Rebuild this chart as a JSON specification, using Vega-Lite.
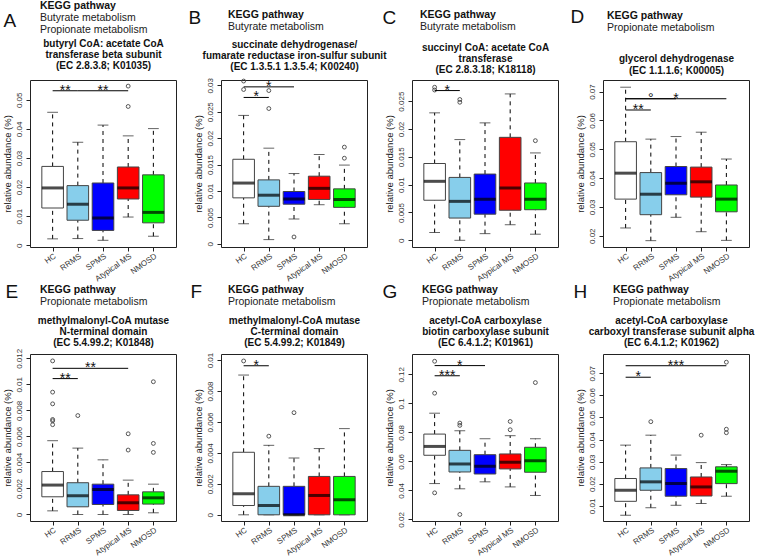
{
"$schema": "https://vega.github.io/schema/vega-lite/v6.json",
"background": "white",
"padding": {"left": 1, "top": 0, "right": 0, "bottom": 0},
"datasets": {
"box": [
{"p":"A","i":1,"g":"HC","lo":0.0022,"q1":0.0128,"med":0.0197,"q3":0.0271,"hi":0.0457},
{"p":"A","i":2,"g":"RRMS","lo":0.0023,"q1":0.0086,"med":0.0141,"q3":0.0205,"hi":0.0354},
{"p":"A","i":3,"g":"SPMS","lo":0.0017,"q1":0.0051,"med":0.0094,"q3":0.0214,"hi":0.0413},
{"p":"A","i":4,"g":"Atypical MS","lo":0.0097,"q1":0.0159,"med":0.0197,"q3":0.0269,"hi":0.0376},
{"p":"A","i":5,"g":"NMOSD","lo":0.0031,"q1":0.0077,"med":0.0113,"q3":0.0242,"hi":0.0401},
{"p":"B","i":1,"g":"HC","lo":0.0038,"q1":0.0087,"med":0.0115,"q3":0.0160,"hi":0.0243},
{"p":"B","i":2,"g":"RRMS","lo":0.0008,"q1":0.0071,"med":0.0092,"q3":0.0121,"hi":0.0181},
{"p":"B","i":3,"g":"SPMS","lo":0.0047,"q1":0.0075,"med":0.0085,"q3":0.0099,"hi":0.0133},
{"p":"B","i":4,"g":"Atypical MS","lo":0.0074,"q1":0.0084,"med":0.0105,"q3":0.0128,"hi":0.0169},
{"p":"B","i":5,"g":"NMOSD","lo":0.0038,"q1":0.0069,"med":0.0084,"q3":0.0104,"hi":0.0149},
{"p":"C","i":1,"g":"HC","lo":0.0014,"q1":0.0072,"med":0.0106,"q3":0.0138,"hi":0.0229},
{"p":"C","i":2,"g":"RRMS","lo":0.0,"q1":0.0040,"med":0.0070,"q3":0.0113,"hi":0.0181},
{"p":"C","i":3,"g":"SPMS","lo":0.0012,"q1":0.0047,"med":0.0074,"q3":0.0119,"hi":0.0211},
{"p":"C","i":4,"g":"Atypical MS","lo":0.0028,"q1":0.0054,"med":0.0094,"q3":0.0185,"hi":0.0263},
{"p":"C","i":5,"g":"NMOSD","lo":0.0011,"q1":0.0055,"med":0.0074,"q3":0.0103,"hi":0.0157},
{"p":"D","i":1,"g":"HC","lo":0.0227,"q1":0.0327,"med":0.0417,"q3":0.0526,"hi":0.0715},
{"p":"D","i":2,"g":"RRMS","lo":0.0183,"q1":0.0273,"med":0.0344,"q3":0.0419,"hi":0.0535},
{"p":"D","i":3,"g":"SPMS","lo":0.0264,"q1":0.0342,"med":0.0382,"q3":0.0440,"hi":0.0544},
{"p":"D","i":4,"g":"Atypical MS","lo":0.0214,"q1":0.0334,"med":0.0387,"q3":0.0438,"hi":0.0559},
{"p":"D","i":5,"g":"NMOSD","lo":0.0184,"q1":0.0283,"med":0.0327,"q3":0.0376,"hi":0.0466},
{"p":"E","i":1,"g":"HC","lo":0.00028,"q1":0.00136,"med":0.00226,"q3":0.0033,"hi":0.00567},
{"p":"E","i":2,"g":"RRMS","lo":0.0,"q1":0.00059,"med":0.00144,"q3":0.00244,"hi":0.0051},
{"p":"E","i":3,"g":"SPMS","lo":0.0,"q1":0.00077,"med":0.00192,"q3":0.00233,"hi":0.0042},
{"p":"E","i":4,"g":"Atypical MS","lo":0.0,"q1":0.00031,"med":0.0009,"q3":0.00151,"hi":0.00264},
{"p":"E","i":5,"g":"NMOSD","lo":0.00013,"q1":0.0008,"med":0.00128,"q3":0.00174,"hi":0.00233},
{"p":"F","i":1,"g":"HC","lo":0.0,"q1":0.0006,"med":0.00136,"q3":0.00404,"hi":0.00903},
{"p":"F","i":2,"g":"RRMS","lo":0.0,"q1":0.0,"med":0.0006,"q3":0.00184,"hi":0.00449},
{"p":"F","i":3,"g":"SPMS","lo":0.0,"q1":0.0,"med":0.0,"q3":0.00184,"hi":0.00367},
{"p":"F","i":4,"g":"Atypical MS","lo":0.0,"q1":0.0,"med":0.00125,"q3":0.00248,"hi":0.00428},
{"p":"F","i":5,"g":"NMOSD","lo":0.0,"q1":0.0,"med":0.00097,"q3":0.00248,"hi":0.00557},
{"p":"G","i":1,"g":"HC","lo":0.0447,"q1":0.0642,"med":0.0703,"q3":0.0788,"hi":0.0932},
{"p":"G","i":2,"g":"RRMS","lo":0.0411,"q1":0.0527,"med":0.0582,"q3":0.0676,"hi":0.0811},
{"p":"G","i":3,"g":"SPMS","lo":0.0459,"q1":0.0513,"med":0.0566,"q3":0.0646,"hi":0.0756},
{"p":"G","i":4,"g":"Atypical MS","lo":0.0424,"q1":0.0548,"med":0.0594,"q3":0.0651,"hi":0.0777},
{"p":"G","i":5,"g":"NMOSD","lo":0.0365,"q1":0.0525,"med":0.0605,"q3":0.0697,"hi":0.0756},
{"p":"H","i":1,"g":"HC","lo":0.0058,"q1":0.0121,"med":0.0171,"q3":0.0224,"hi":0.0375},
{"p":"H","i":2,"g":"RRMS","lo":0.0092,"q1":0.0171,"med":0.0209,"q3":0.0272,"hi":0.0420},
{"p":"H","i":3,"g":"SPMS","lo":0.0103,"q1":0.0144,"med":0.0201,"q3":0.0269,"hi":0.0330},
{"p":"H","i":4,"g":"Atypical MS","lo":0.0111,"q1":0.0145,"med":0.0186,"q3":0.0231,"hi":0.0296},
{"p":"H","i":5,"g":"NMOSD","lo":0.0144,"q1":0.0201,"med":0.0257,"q3":0.0277,"hi":0.0287}
],
"out": [
{"p":"A","i":4,"v":0.0477},{"p":"A","i":4,"v":0.0547},
{"p":"B","i":1,"v":0.0292},{"p":"B","i":1,"v":0.0308},{"p":"B","i":2,"v":0.0256},{"p":"B","i":2,"v":0.0290},{"p":"B","i":3,"v":0.0013},{"p":"B","i":5,"v":0.0162},{"p":"B","i":5,"v":0.0183},
{"p":"C","i":1,"v":0.0270},{"p":"C","i":1,"v":0.0275},{"p":"C","i":2,"v":0.0248},{"p":"C","i":2,"v":0.0253},{"p":"C","i":5,"v":0.0179},
{"p":"E","i":1,"v":0.0118},{"p":"E","i":1,"v":0.0094},{"p":"E","i":1,"v":0.0085},{"p":"E","i":1,"v":0.0073},{"p":"E","i":1,"v":0.0072},{"p":"E","i":1,"v":0.0069},{"p":"E","i":2,"v":0.0076},{"p":"E","i":4,"v":0.0062},{"p":"E","i":4,"v":0.00495},{"p":"E","i":5,"v":0.0102},{"p":"E","i":5,"v":0.00546},{"p":"E","i":5,"v":0.00477},
{"p":"F","i":1,"v":0.00994},{"p":"F","i":2,"v":0.00508},{"p":"F","i":3,"v":0.0066},
{"p":"G","i":1,"v":0.129},{"p":"G","i":1,"v":0.107},{"p":"G","i":1,"v":0.0383},{"p":"G","i":2,"v":0.0864},{"p":"G","i":2,"v":0.0848},{"p":"G","i":2,"v":0.0234},{"p":"G","i":4,"v":0.0875},{"p":"G","i":4,"v":0.0818},{"p":"G","i":5,"v":0.1143},
{"p":"H","i":2,"v":0.0481},{"p":"H","i":4,"v":0.0420},{"p":"H","i":5,"v":0.0750},{"p":"H","i":5,"v":0.0447},{"p":"H","i":5,"v":0.0431}
],
"sig": [
{"p":"A","from":1,"to":2,"mid":1.5,"y":0.0531,"label":"**"},
{"p":"A","from":2,"to":4,"mid":3,"y":0.0531,"label":"**"},
{"p":"B","from":1,"to":2,"mid":1.5,"y":0.0277,"label":"*"},
{"p":"B","from":1,"to":3,"mid":2,"y":0.0297,"label":"*"},
{"p":"C","from":1,"to":2,"mid":1.5,"y":0.0269,"label":"*"},
{"p":"D","from":1,"to":2,"mid":1.5,"y":0.0636,"label":"**"},
{"p":"D","from":1,"to":5,"mid":3,"y":0.0675,"label":"*"},
{"p":"D","from":1,"to":3,"mid":2,"y":0.0675,"label":"°"},
{"p":"E","from":1,"to":2,"mid":1.5,"y":0.01044,"label":"**"},
{"p":"E","from":1,"to":4,"mid":2.5,"y":0.01123,"label":"**"},
{"p":"F","from":1,"to":2,"mid":1.5,"y":0.00963,"label":"*"},
{"p":"G","from":1,"to":2,"mid":1.5,"y":0.119,"label":"***"},
{"p":"G","from":1,"to":3,"mid":2,"y":0.126,"label":"*"},
{"p":"H","from":1,"to":2,"mid":1.5,"y":0.0682,"label":"*"},
{"p":"H","from":1,"to":5,"mid":3,"y":0.0734,"label":"***"}
]
},
"columns": 4,
"spacing": {"row": 107, "column": 45},
"bounds": "flush",
"concat": [
{"width": 146, "height": 167,
 "title": {"text": "KEGG pathway", "subtitle": ["Butyrate metabolism", "Propionate metabolism"], "anchor": "start", "frame": "group", "dx": 10, "offset": -24},
 "resolve": {"axis": {"x": "independent", "y": "independent"}},
 "layer": [
  {"data": {"name": "box"}, "transform": [{"filter": "datum.p == 'A'"}], "mark": {"type": "rule", "style": "whisk"}, "encoding": {"x": {"field": "i", "type": "quantitative", "scale": {"domain": [0.3, 5.7], "nice": false, "zero": false}, "axis": {"values": [1,2,3,4,5], "labelExpr": "['','HC','RRMS','SPMS','Atypical MS','NMOSD'][datum.value]", "title": null}}, "y": {"field": "lo", "type": "quantitative", "scale": {"domain": [-0.0006, 0.0568], "nice": false, "zero": false}, "axis": {"values": [0,0.01,0.02,0.03,0.04,0.05], "title": "relative abundance (%)"}}, "y2": {"field": "q1"}}},
  {"data": {"name": "box"}, "transform": [{"filter": "datum.p == 'A'"}], "mark": {"type": "rule", "style": "whisk"}, "encoding": {"x": {"field": "i", "type": "quantitative", "axis": null}, "y": {"field": "q3", "type": "quantitative", "axis": null}, "y2": {"field": "hi"}}},
  {"data": {"name": "box"}, "transform": [{"filter": "datum.p == 'A'"}], "mark": {"type": "tick", "style": "cap"}, "encoding": {"x": {"field": "i", "type": "quantitative", "axis": null}, "y": {"field": "lo", "type": "quantitative", "axis": null}}},
  {"data": {"name": "box"}, "transform": [{"filter": "datum.p == 'A'"}], "mark": {"type": "tick", "style": "cap"}, "encoding": {"x": {"field": "i", "type": "quantitative", "axis": null}, "y": {"field": "hi", "type": "quantitative", "axis": null}}},
  {"data": {"name": "box"}, "transform": [{"filter": "datum.p == 'A'"}], "mark": {"type": "bar", "width": 21.6, "stroke": "#444", "strokeWidth": 1}, "encoding": {"x": {"field": "i", "type": "quantitative", "axis": null}, "y": {"field": "q1", "type": "quantitative", "axis": null}, "y2": {"field": "q3"}, "fill": {"field": "g", "type": "nominal", "scale": {"domain": ["HC","RRMS","SPMS","Atypical MS","NMOSD"], "range": ["#ffffff","#87ceeb","#0000ff","#ff0000","#00ff00"]}, "legend": null}}},
  {"data": {"name": "box"}, "transform": [{"filter": "datum.p == 'A'"}], "mark": {"type": "tick", "style": "medtick"}, "encoding": {"x": {"field": "i", "type": "quantitative", "axis": null}, "y": {"field": "med", "type": "quantitative", "axis": null}}},
  {"data": {"name": "out"}, "transform": [{"filter": "datum.p == 'A'"}], "mark": {"type": "point", "style": "outl"}, "encoding": {"x": {"field": "i", "type": "quantitative", "axis": null}, "y": {"field": "v", "type": "quantitative", "axis": {"orient": "left", "title": "A", "labels": false, "ticks": false, "domain": false, "titleAngle": 0, "titleX": -27, "titleY": -54, "titleFontSize": 19, "titleFontWeight": "normal", "titleAlign": "left", "titleBaseline": "alphabetic", "titleColor": "#111"}}}},
  {"data": {"name": "sig"}, "transform": [{"filter": "datum.p == 'A'"}], "mark": {"type": "rule", "style": "sigline"}, "encoding": {"x": {"field": "from", "type": "quantitative", "axis": {"orient": "top", "title": ["butyryl CoA: acetate CoA", "transferase beta subunit", "(EC 2.8.3.8; K01035)"], "labels": false, "ticks": false, "domain": false, "titleFontWeight": "bold", "titleFontSize": 10, "titleLineHeight": 11, "titlePadding": 10, "titleColor": "#111"}}, "x2": {"field": "to"}, "y": {"field": "y", "type": "quantitative", "axis": null}}},
  {"data": {"name": "sig"}, "transform": [{"filter": "datum.p == 'A'"}], "mark": {"type": "text", "style": "star"}, "encoding": {"x": {"field": "mid", "type": "quantitative", "axis": null}, "y": {"field": "y", "type": "quantitative", "axis": null}, "text": {"field": "label"}}}
 ]},
{"width": 146, "height": 167,
 "title": {"text": "KEGG pathway", "subtitle": ["Butyrate metabolism"], "anchor": "start", "frame": "group", "dx": 7, "offset": -24},
 "resolve": {"axis": {"x": "independent", "y": "independent"}},
 "layer": [
  {"data": {"name": "box"}, "transform": [{"filter": "datum.p == 'B'"}], "mark": {"type": "rule", "style": "whisk"}, "encoding": {"x": {"field": "i", "type": "quantitative", "scale": {"domain": [0.3, 5.7], "nice": false, "zero": false}, "axis": {"values": [1,2,3,4,5], "labelExpr": "['','HC','RRMS','SPMS','Atypical MS','NMOSD'][datum.value]", "title": null}}, "y": {"field": "lo", "type": "quantitative", "scale": {"domain": [-0.0006, 0.031], "nice": false, "zero": false}, "axis": {"values": [0,0.005,0.01,0.015,0.02,0.025,0.03], "title": "relative abundance (%)"}}, "y2": {"field": "q1"}}},
  {"data": {"name": "box"}, "transform": [{"filter": "datum.p == 'B'"}], "mark": {"type": "rule", "style": "whisk"}, "encoding": {"x": {"field": "i", "type": "quantitative", "axis": null}, "y": {"field": "q3", "type": "quantitative", "axis": null}, "y2": {"field": "hi"}}},
  {"data": {"name": "box"}, "transform": [{"filter": "datum.p == 'B'"}], "mark": {"type": "tick", "style": "cap"}, "encoding": {"x": {"field": "i", "type": "quantitative", "axis": null}, "y": {"field": "lo", "type": "quantitative", "axis": null}}},
  {"data": {"name": "box"}, "transform": [{"filter": "datum.p == 'B'"}], "mark": {"type": "tick", "style": "cap"}, "encoding": {"x": {"field": "i", "type": "quantitative", "axis": null}, "y": {"field": "hi", "type": "quantitative", "axis": null}}},
  {"data": {"name": "box"}, "transform": [{"filter": "datum.p == 'B'"}], "mark": {"type": "bar", "width": 21.6, "stroke": "#444", "strokeWidth": 1}, "encoding": {"x": {"field": "i", "type": "quantitative", "axis": null}, "y": {"field": "q1", "type": "quantitative", "axis": null}, "y2": {"field": "q3"}, "fill": {"field": "g", "type": "nominal", "scale": {"domain": ["HC","RRMS","SPMS","Atypical MS","NMOSD"], "range": ["#ffffff","#87ceeb","#0000ff","#ff0000","#00ff00"]}, "legend": null}}},
  {"data": {"name": "box"}, "transform": [{"filter": "datum.p == 'B'"}], "mark": {"type": "tick", "style": "medtick"}, "encoding": {"x": {"field": "i", "type": "quantitative", "axis": null}, "y": {"field": "med", "type": "quantitative", "axis": null}}},
  {"data": {"name": "out"}, "transform": [{"filter": "datum.p == 'B'"}], "mark": {"type": "point", "style": "outl"}, "encoding": {"x": {"field": "i", "type": "quantitative", "axis": null}, "y": {"field": "v", "type": "quantitative", "axis": {"orient": "left", "title": "B", "labels": false, "ticks": false, "domain": false, "titleAngle": 0, "titleX": -33, "titleY": -57, "titleFontSize": 19, "titleFontWeight": "normal", "titleAlign": "left", "titleBaseline": "alphabetic", "titleColor": "#111"}}}},
  {"data": {"name": "sig"}, "transform": [{"filter": "datum.p == 'B'"}], "mark": {"type": "rule", "style": "sigline"}, "encoding": {"x": {"field": "from", "type": "quantitative", "axis": {"orient": "top", "title": ["succinate dehydrogenase/", "fumarate reductase iron-sulfur subunit", "(EC 1.3.5.1 1.3.5.4; K00240)"], "labels": false, "ticks": false, "domain": false, "titleFontWeight": "bold", "titleFontSize": 10, "titleLineHeight": 11, "titlePadding": 9, "titleColor": "#111"}}, "x2": {"field": "to"}, "y": {"field": "y", "type": "quantitative", "axis": null}}},
  {"data": {"name": "sig"}, "transform": [{"filter": "datum.p == 'B'"}], "mark": {"type": "text", "style": "star"}, "encoding": {"x": {"field": "mid", "type": "quantitative", "axis": null}, "y": {"field": "y", "type": "quantitative", "axis": null}, "text": {"field": "label"}}}
 ]},
{"width": 146, "height": 167,
 "title": {"text": "KEGG pathway", "subtitle": ["Butyrate metabolism"], "anchor": "start", "frame": "group", "dx": 8, "offset": -24},
 "resolve": {"axis": {"x": "independent", "y": "independent"}},
 "layer": [
  {"data": {"name": "box"}, "transform": [{"filter": "datum.p == 'C'"}], "mark": {"type": "rule", "style": "whisk"}, "encoding": {"x": {"field": "i", "type": "quantitative", "scale": {"domain": [0.3, 5.7], "nice": false, "zero": false}, "axis": {"values": [1,2,3,4,5], "labelExpr": "['','HC','RRMS','SPMS','Atypical MS','NMOSD'][datum.value]", "title": null}}, "y": {"field": "lo", "type": "quantitative", "scale": {"domain": [-0.0012, 0.0288], "nice": false, "zero": false}, "axis": {"values": [0,0.005,0.01,0.015,0.02,0.025], "title": "relative abundance (%)"}}, "y2": {"field": "q1"}}},
  {"data": {"name": "box"}, "transform": [{"filter": "datum.p == 'C'"}], "mark": {"type": "rule", "style": "whisk"}, "encoding": {"x": {"field": "i", "type": "quantitative", "axis": null}, "y": {"field": "q3", "type": "quantitative", "axis": null}, "y2": {"field": "hi"}}},
  {"data": {"name": "box"}, "transform": [{"filter": "datum.p == 'C'"}], "mark": {"type": "tick", "style": "cap"}, "encoding": {"x": {"field": "i", "type": "quantitative", "axis": null}, "y": {"field": "lo", "type": "quantitative", "axis": null}}},
  {"data": {"name": "box"}, "transform": [{"filter": "datum.p == 'C'"}], "mark": {"type": "tick", "style": "cap"}, "encoding": {"x": {"field": "i", "type": "quantitative", "axis": null}, "y": {"field": "hi", "type": "quantitative", "axis": null}}},
  {"data": {"name": "box"}, "transform": [{"filter": "datum.p == 'C'"}], "mark": {"type": "bar", "width": 21.6, "stroke": "#444", "strokeWidth": 1}, "encoding": {"x": {"field": "i", "type": "quantitative", "axis": null}, "y": {"field": "q1", "type": "quantitative", "axis": null}, "y2": {"field": "q3"}, "fill": {"field": "g", "type": "nominal", "scale": {"domain": ["HC","RRMS","SPMS","Atypical MS","NMOSD"], "range": ["#ffffff","#87ceeb","#0000ff","#ff0000","#00ff00"]}, "legend": null}}},
  {"data": {"name": "box"}, "transform": [{"filter": "datum.p == 'C'"}], "mark": {"type": "tick", "style": "medtick"}, "encoding": {"x": {"field": "i", "type": "quantitative", "axis": null}, "y": {"field": "med", "type": "quantitative", "axis": null}}},
  {"data": {"name": "out"}, "transform": [{"filter": "datum.p == 'C'"}], "mark": {"type": "point", "style": "outl"}, "encoding": {"x": {"field": "i", "type": "quantitative", "axis": null}, "y": {"field": "v", "type": "quantitative", "axis": {"orient": "left", "title": "C", "labels": false, "ticks": false, "domain": false, "titleAngle": 0, "titleX": -30, "titleY": -57, "titleFontSize": 19, "titleFontWeight": "normal", "titleAlign": "left", "titleBaseline": "alphabetic", "titleColor": "#111"}}}},
  {"data": {"name": "sig"}, "transform": [{"filter": "datum.p == 'C'"}], "mark": {"type": "rule", "style": "sigline"}, "encoding": {"x": {"field": "from", "type": "quantitative", "axis": {"orient": "top", "title": ["succinyl CoA: acetate CoA", "transferase", "(EC 2.8.3.18; K18118)"], "labels": false, "ticks": false, "domain": false, "titleFontWeight": "bold", "titleFontSize": 10, "titleLineHeight": 11, "titlePadding": 6, "titleColor": "#111"}}, "x2": {"field": "to"}, "y": {"field": "y", "type": "quantitative", "axis": null}}},
  {"data": {"name": "sig"}, "transform": [{"filter": "datum.p == 'C'"}], "mark": {"type": "text", "style": "star"}, "encoding": {"x": {"field": "mid", "type": "quantitative", "axis": null}, "y": {"field": "y", "type": "quantitative", "axis": null}, "text": {"field": "label"}}}
 ]},
{"width": 146, "height": 167,
 "title": {"text": "KEGG pathway", "subtitle": ["Propionate metabolism"], "anchor": "start", "frame": "group", "dx": 4, "offset": -26},
 "resolve": {"axis": {"x": "independent", "y": "independent"}},
 "layer": [
  {"data": {"name": "box"}, "transform": [{"filter": "datum.p == 'D'"}], "mark": {"type": "rule", "style": "whisk"}, "encoding": {"x": {"field": "i", "type": "quantitative", "scale": {"domain": [0.3, 5.7], "nice": false, "zero": false}, "axis": {"values": [1,2,3,4,5], "labelExpr": "['','HC','RRMS','SPMS','Atypical MS','NMOSD'][datum.value]", "title": null}}, "y": {"field": "lo", "type": "quantitative", "scale": {"domain": [0.0161, 0.074], "nice": false, "zero": false}, "axis": {"values": [0.02,0.03,0.04,0.05,0.06,0.07], "title": "relative abundance (%)"}}, "y2": {"field": "q1"}}},
  {"data": {"name": "box"}, "transform": [{"filter": "datum.p == 'D'"}], "mark": {"type": "rule", "style": "whisk"}, "encoding": {"x": {"field": "i", "type": "quantitative", "axis": null}, "y": {"field": "q3", "type": "quantitative", "axis": null}, "y2": {"field": "hi"}}},
  {"data": {"name": "box"}, "transform": [{"filter": "datum.p == 'D'"}], "mark": {"type": "tick", "style": "cap"}, "encoding": {"x": {"field": "i", "type": "quantitative", "axis": null}, "y": {"field": "lo", "type": "quantitative", "axis": null}}},
  {"data": {"name": "box"}, "transform": [{"filter": "datum.p == 'D'"}], "mark": {"type": "tick", "style": "cap"}, "encoding": {"x": {"field": "i", "type": "quantitative", "axis": null}, "y": {"field": "hi", "type": "quantitative", "axis": null}}},
  {"data": {"name": "box"}, "transform": [{"filter": "datum.p == 'D'"}], "mark": {"type": "bar", "width": 21.6, "stroke": "#444", "strokeWidth": 1}, "encoding": {"x": {"field": "i", "type": "quantitative", "axis": null}, "y": {"field": "q1", "type": "quantitative", "axis": null}, "y2": {"field": "q3"}, "fill": {"field": "g", "type": "nominal", "scale": {"domain": ["HC","RRMS","SPMS","Atypical MS","NMOSD"], "range": ["#ffffff","#87ceeb","#0000ff","#ff0000","#00ff00"]}, "legend": null}}},
  {"data": {"name": "box"}, "transform": [{"filter": "datum.p == 'D'"}], "mark": {"type": "tick", "style": "medtick"}, "encoding": {"x": {"field": "i", "type": "quantitative", "axis": null}, "y": {"field": "med", "type": "quantitative", "axis": null}}},
  {"data": {"name": "out"}, "transform": [{"filter": "datum.p == 'D'"}], "mark": {"type": "point", "style": "outl"}, "encoding": {"x": {"field": "i", "type": "quantitative", "axis": null}, "y": {"field": "v", "type": "quantitative", "axis": {"orient": "left", "title": "D", "labels": false, "ticks": false, "domain": false, "titleAngle": 0, "titleX": -33, "titleY": -58, "titleFontSize": 19, "titleFontWeight": "normal", "titleAlign": "left", "titleBaseline": "alphabetic", "titleColor": "#111"}}}},
  {"data": {"name": "sig"}, "transform": [{"filter": "datum.p == 'D'"}], "mark": {"type": "rule", "style": "sigline"}, "encoding": {"x": {"field": "from", "type": "quantitative", "axis": {"orient": "top", "title": ["glycerol dehydrogenase", "(EC 1.1.1.6; K00005)"], "labels": false, "ticks": false, "domain": false, "titleFontWeight": "bold", "titleFontSize": 10, "titleLineHeight": 12, "titlePadding": 5, "titleColor": "#111"}}, "x2": {"field": "to"}, "y": {"field": "y", "type": "quantitative", "axis": null}}},
  {"data": {"name": "sig"}, "transform": [{"filter": "datum.p == 'D'"}], "mark": {"type": "text", "style": "star"}, "encoding": {"x": {"field": "mid", "type": "quantitative", "axis": null}, "y": {"field": "y", "type": "quantitative", "axis": null}, "text": {"field": "label"}}}
 ]},
{"width": 146, "height": 167,
 "title": {"text": "KEGG pathway", "subtitle": ["Propionate metabolism"], "anchor": "start", "frame": "group", "dx": 10, "offset": -25},
 "resolve": {"axis": {"x": "independent", "y": "independent"}},
 "layer": [
  {"data": {"name": "box"}, "transform": [{"filter": "datum.p == 'E'"}], "mark": {"type": "rule", "style": "whisk"}, "encoding": {"x": {"field": "i", "type": "quantitative", "scale": {"domain": [0.3, 5.7], "nice": false, "zero": false}, "axis": {"values": [1,2,3,4,5], "labelExpr": "['','HC','RRMS','SPMS','Atypical MS','NMOSD'][datum.value]", "title": null}}, "y": {"field": "lo", "type": "quantitative", "scale": {"domain": [-0.0005, 0.01233], "nice": false, "zero": false}, "axis": {"values": [0,0.002,0.004,0.006,0.008,0.01,0.012], "title": "relative abundance (%)"}}, "y2": {"field": "q1"}}},
  {"data": {"name": "box"}, "transform": [{"filter": "datum.p == 'E'"}], "mark": {"type": "rule", "style": "whisk"}, "encoding": {"x": {"field": "i", "type": "quantitative", "axis": null}, "y": {"field": "q3", "type": "quantitative", "axis": null}, "y2": {"field": "hi"}}},
  {"data": {"name": "box"}, "transform": [{"filter": "datum.p == 'E'"}], "mark": {"type": "tick", "style": "cap"}, "encoding": {"x": {"field": "i", "type": "quantitative", "axis": null}, "y": {"field": "lo", "type": "quantitative", "axis": null}}},
  {"data": {"name": "box"}, "transform": [{"filter": "datum.p == 'E'"}], "mark": {"type": "tick", "style": "cap"}, "encoding": {"x": {"field": "i", "type": "quantitative", "axis": null}, "y": {"field": "hi", "type": "quantitative", "axis": null}}},
  {"data": {"name": "box"}, "transform": [{"filter": "datum.p == 'E'"}], "mark": {"type": "bar", "width": 21.6, "stroke": "#444", "strokeWidth": 1}, "encoding": {"x": {"field": "i", "type": "quantitative", "axis": null}, "y": {"field": "q1", "type": "quantitative", "axis": null}, "y2": {"field": "q3"}, "fill": {"field": "g", "type": "nominal", "scale": {"domain": ["HC","RRMS","SPMS","Atypical MS","NMOSD"], "range": ["#ffffff","#87ceeb","#0000ff","#ff0000","#00ff00"]}, "legend": null}}},
  {"data": {"name": "box"}, "transform": [{"filter": "datum.p == 'E'"}], "mark": {"type": "tick", "style": "medtick"}, "encoding": {"x": {"field": "i", "type": "quantitative", "axis": null}, "y": {"field": "med", "type": "quantitative", "axis": null}}},
  {"data": {"name": "out"}, "transform": [{"filter": "datum.p == 'E'"}], "mark": {"type": "point", "style": "outl"}, "encoding": {"x": {"field": "i", "type": "quantitative", "axis": null}, "y": {"field": "v", "type": "quantitative", "axis": {"orient": "left", "title": "E", "labels": false, "ticks": false, "domain": false, "titleAngle": 0, "titleX": -25, "titleY": -57, "titleFontSize": 19, "titleFontWeight": "normal", "titleAlign": "left", "titleBaseline": "alphabetic", "titleColor": "#111"}}}},
  {"data": {"name": "sig"}, "transform": [{"filter": "datum.p == 'E'"}], "mark": {"type": "rule", "style": "sigline"}, "encoding": {"x": {"field": "from", "type": "quantitative", "axis": {"orient": "top", "title": ["methylmalonyl-CoA mutase", "N-terminal domain", "(EC 5.4.99.2; K01848)"], "labels": false, "ticks": false, "domain": false, "titleFontWeight": "bold", "titleFontSize": 10, "titleLineHeight": 11, "titlePadding": 7, "titleColor": "#111"}}, "x2": {"field": "to"}, "y": {"field": "y", "type": "quantitative", "axis": null}}},
  {"data": {"name": "sig"}, "transform": [{"filter": "datum.p == 'E'"}], "mark": {"type": "text", "style": "star"}, "encoding": {"x": {"field": "mid", "type": "quantitative", "axis": null}, "y": {"field": "y", "type": "quantitative", "axis": null}, "text": {"field": "label"}}}
 ]},
{"width": 146, "height": 167,
 "title": {"text": "KEGG pathway", "subtitle": ["Propionate metabolism"], "anchor": "start", "frame": "group", "dx": 7, "offset": -25},
 "resolve": {"axis": {"x": "independent", "y": "independent"}},
 "layer": [
  {"data": {"name": "box"}, "transform": [{"filter": "datum.p == 'F'"}], "mark": {"type": "rule", "style": "whisk"}, "encoding": {"x": {"field": "i", "type": "quantitative", "scale": {"domain": [0.3, 5.7], "nice": false, "zero": false}, "axis": {"values": [1,2,3,4,5], "labelExpr": "['','HC','RRMS','SPMS','Atypical MS','NMOSD'][datum.value]", "title": null}}, "y": {"field": "lo", "type": "quantitative", "scale": {"domain": [-0.0004, 0.01039], "nice": false, "zero": false}, "axis": {"values": [0,0.002,0.004,0.006,0.008,0.01], "title": "relative abundance (%)"}}, "y2": {"field": "q1"}}},
  {"data": {"name": "box"}, "transform": [{"filter": "datum.p == 'F'"}], "mark": {"type": "rule", "style": "whisk"}, "encoding": {"x": {"field": "i", "type": "quantitative", "axis": null}, "y": {"field": "q3", "type": "quantitative", "axis": null}, "y2": {"field": "hi"}}},
  {"data": {"name": "box"}, "transform": [{"filter": "datum.p == 'F'"}], "mark": {"type": "tick", "style": "cap"}, "encoding": {"x": {"field": "i", "type": "quantitative", "axis": null}, "y": {"field": "lo", "type": "quantitative", "axis": null}}},
  {"data": {"name": "box"}, "transform": [{"filter": "datum.p == 'F'"}], "mark": {"type": "tick", "style": "cap"}, "encoding": {"x": {"field": "i", "type": "quantitative", "axis": null}, "y": {"field": "hi", "type": "quantitative", "axis": null}}},
  {"data": {"name": "box"}, "transform": [{"filter": "datum.p == 'F'"}], "mark": {"type": "bar", "width": 21.6, "stroke": "#444", "strokeWidth": 1}, "encoding": {"x": {"field": "i", "type": "quantitative", "axis": null}, "y": {"field": "q1", "type": "quantitative", "axis": null}, "y2": {"field": "q3"}, "fill": {"field": "g", "type": "nominal", "scale": {"domain": ["HC","RRMS","SPMS","Atypical MS","NMOSD"], "range": ["#ffffff","#87ceeb","#0000ff","#ff0000","#00ff00"]}, "legend": null}}},
  {"data": {"name": "box"}, "transform": [{"filter": "datum.p == 'F'"}], "mark": {"type": "tick", "style": "medtick"}, "encoding": {"x": {"field": "i", "type": "quantitative", "axis": null}, "y": {"field": "med", "type": "quantitative", "axis": null}}},
  {"data": {"name": "out"}, "transform": [{"filter": "datum.p == 'F'"}], "mark": {"type": "point", "style": "outl"}, "encoding": {"x": {"field": "i", "type": "quantitative", "axis": null}, "y": {"field": "v", "type": "quantitative", "axis": {"orient": "left", "title": "F", "labels": false, "ticks": false, "domain": false, "titleAngle": 0, "titleX": -31, "titleY": -57, "titleFontSize": 19, "titleFontWeight": "normal", "titleAlign": "left", "titleBaseline": "alphabetic", "titleColor": "#111"}}}},
  {"data": {"name": "sig"}, "transform": [{"filter": "datum.p == 'F'"}], "mark": {"type": "rule", "style": "sigline"}, "encoding": {"x": {"field": "from", "type": "quantitative", "axis": {"orient": "top", "title": ["methylmalonyl-CoA mutase", "C-terminal domain", "(EC 5.4.99.2; K01849)"], "labels": false, "ticks": false, "domain": false, "titleFontWeight": "bold", "titleFontSize": 10, "titleLineHeight": 11, "titlePadding": 7, "titleColor": "#111"}}, "x2": {"field": "to"}, "y": {"field": "y", "type": "quantitative", "axis": null}}},
  {"data": {"name": "sig"}, "transform": [{"filter": "datum.p == 'F'"}], "mark": {"type": "text", "style": "star"}, "encoding": {"x": {"field": "mid", "type": "quantitative", "axis": null}, "y": {"field": "y", "type": "quantitative", "axis": null}, "text": {"field": "label"}}}
 ]},
{"width": 146, "height": 167,
 "title": {"text": "KEGG pathway", "subtitle": ["Propionate metabolism"], "anchor": "start", "frame": "group", "dx": 10, "offset": -25},
 "resolve": {"axis": {"x": "independent", "y": "independent"}},
 "layer": [
  {"data": {"name": "box"}, "transform": [{"filter": "datum.p == 'G'"}], "mark": {"type": "rule", "style": "whisk"}, "encoding": {"x": {"field": "i", "type": "quantitative", "scale": {"domain": [0.3, 5.7], "nice": false, "zero": false}, "axis": {"values": [1,2,3,4,5], "labelExpr": "['','HC','RRMS','SPMS','Atypical MS','NMOSD'][datum.value]", "title": null}}, "y": {"field": "lo", "type": "quantitative", "scale": {"domain": [0.0189, 0.134], "nice": false, "zero": false}, "axis": {"values": [0.02,0.04,0.06,0.08,0.1,0.12], "title": "relative abundance (%)"}}, "y2": {"field": "q1"}}},
  {"data": {"name": "box"}, "transform": [{"filter": "datum.p == 'G'"}], "mark": {"type": "rule", "style": "whisk"}, "encoding": {"x": {"field": "i", "type": "quantitative", "axis": null}, "y": {"field": "q3", "type": "quantitative", "axis": null}, "y2": {"field": "hi"}}},
  {"data": {"name": "box"}, "transform": [{"filter": "datum.p == 'G'"}], "mark": {"type": "tick", "style": "cap"}, "encoding": {"x": {"field": "i", "type": "quantitative", "axis": null}, "y": {"field": "lo", "type": "quantitative", "axis": null}}},
  {"data": {"name": "box"}, "transform": [{"filter": "datum.p == 'G'"}], "mark": {"type": "tick", "style": "cap"}, "encoding": {"x": {"field": "i", "type": "quantitative", "axis": null}, "y": {"field": "hi", "type": "quantitative", "axis": null}}},
  {"data": {"name": "box"}, "transform": [{"filter": "datum.p == 'G'"}], "mark": {"type": "bar", "width": 21.6, "stroke": "#444", "strokeWidth": 1}, "encoding": {"x": {"field": "i", "type": "quantitative", "axis": null}, "y": {"field": "q1", "type": "quantitative", "axis": null}, "y2": {"field": "q3"}, "fill": {"field": "g", "type": "nominal", "scale": {"domain": ["HC","RRMS","SPMS","Atypical MS","NMOSD"], "range": ["#ffffff","#87ceeb","#0000ff","#ff0000","#00ff00"]}, "legend": null}}},
  {"data": {"name": "box"}, "transform": [{"filter": "datum.p == 'G'"}], "mark": {"type": "tick", "style": "medtick"}, "encoding": {"x": {"field": "i", "type": "quantitative", "axis": null}, "y": {"field": "med", "type": "quantitative", "axis": null}}},
  {"data": {"name": "out"}, "transform": [{"filter": "datum.p == 'G'"}], "mark": {"type": "point", "style": "outl"}, "encoding": {"x": {"field": "i", "type": "quantitative", "axis": null}, "y": {"field": "v", "type": "quantitative", "axis": {"orient": "left", "title": "G", "labels": false, "ticks": false, "domain": false, "titleAngle": 0, "titleX": -30, "titleY": -57, "titleFontSize": 19, "titleFontWeight": "normal", "titleAlign": "left", "titleBaseline": "alphabetic", "titleColor": "#111"}}}},
  {"data": {"name": "sig"}, "transform": [{"filter": "datum.p == 'G'"}], "mark": {"type": "rule", "style": "sigline"}, "encoding": {"x": {"field": "from", "type": "quantitative", "axis": {"orient": "top", "title": ["acetyl-CoA carboxylase", "biotin carboxylase subunit", "(EC 6.4.1.2; K01961)"], "labels": false, "ticks": false, "domain": false, "titleFontWeight": "bold", "titleFontSize": 10, "titleLineHeight": 11, "titlePadding": 7, "titleColor": "#111"}}, "x2": {"field": "to"}, "y": {"field": "y", "type": "quantitative", "axis": null}}},
  {"data": {"name": "sig"}, "transform": [{"filter": "datum.p == 'G'"}], "mark": {"type": "text", "style": "star"}, "encoding": {"x": {"field": "mid", "type": "quantitative", "axis": null}, "y": {"field": "y", "type": "quantitative", "axis": null}, "text": {"field": "label"}}}
 ]},
{"width": 146, "height": 167,
 "title": {"text": "KEGG pathway", "subtitle": ["Propionate metabolism"], "anchor": "start", "frame": "group", "dx": 10, "offset": -25},
 "resolve": {"axis": {"x": "independent", "y": "independent"}},
 "layer": [
  {"data": {"name": "box"}, "transform": [{"filter": "datum.p == 'H'"}], "mark": {"type": "rule", "style": "whisk"}, "encoding": {"x": {"field": "i", "type": "quantitative", "scale": {"domain": [0.3, 5.7], "nice": false, "zero": false}, "axis": {"values": [1,2,3,4,5], "labelExpr": "['','HC','RRMS','SPMS','Atypical MS','NMOSD'][datum.value]", "title": null}}, "y": {"field": "lo", "type": "quantitative", "scale": {"domain": [0.0032, 0.0787], "nice": false, "zero": false}, "axis": {"values": [0.01,0.02,0.03,0.04,0.05,0.06,0.07], "title": "relative abundance (%)"}}, "y2": {"field": "q1"}}},
  {"data": {"name": "box"}, "transform": [{"filter": "datum.p == 'H'"}], "mark": {"type": "rule", "style": "whisk"}, "encoding": {"x": {"field": "i", "type": "quantitative", "axis": null}, "y": {"field": "q3", "type": "quantitative", "axis": null}, "y2": {"field": "hi"}}},
  {"data": {"name": "box"}, "transform": [{"filter": "datum.p == 'H'"}], "mark": {"type": "tick", "style": "cap"}, "encoding": {"x": {"field": "i", "type": "quantitative", "axis": null}, "y": {"field": "lo", "type": "quantitative", "axis": null}}},
  {"data": {"name": "box"}, "transform": [{"filter": "datum.p == 'H'"}], "mark": {"type": "tick", "style": "cap"}, "encoding": {"x": {"field": "i", "type": "quantitative", "axis": null}, "y": {"field": "hi", "type": "quantitative", "axis": null}}},
  {"data": {"name": "box"}, "transform": [{"filter": "datum.p == 'H'"}], "mark": {"type": "bar", "width": 21.6, "stroke": "#444", "strokeWidth": 1}, "encoding": {"x": {"field": "i", "type": "quantitative", "axis": null}, "y": {"field": "q1", "type": "quantitative", "axis": null}, "y2": {"field": "q3"}, "fill": {"field": "g", "type": "nominal", "scale": {"domain": ["HC","RRMS","SPMS","Atypical MS","NMOSD"], "range": ["#ffffff","#87ceeb","#0000ff","#ff0000","#00ff00"]}, "legend": null}}},
  {"data": {"name": "box"}, "transform": [{"filter": "datum.p == 'H'"}], "mark": {"type": "tick", "style": "medtick"}, "encoding": {"x": {"field": "i", "type": "quantitative", "axis": null}, "y": {"field": "med", "type": "quantitative", "axis": null}}},
  {"data": {"name": "out"}, "transform": [{"filter": "datum.p == 'H'"}], "mark": {"type": "point", "style": "outl"}, "encoding": {"x": {"field": "i", "type": "quantitative", "axis": null}, "y": {"field": "v", "type": "quantitative", "axis": {"orient": "left", "title": "H", "labels": false, "ticks": false, "domain": false, "titleAngle": 0, "titleX": -30, "titleY": -57, "titleFontSize": 19, "titleFontWeight": "normal", "titleAlign": "left", "titleBaseline": "alphabetic", "titleColor": "#111"}}}},
  {"data": {"name": "sig"}, "transform": [{"filter": "datum.p == 'H'"}], "mark": {"type": "rule", "style": "sigline"}, "encoding": {"x": {"field": "from", "type": "quantitative", "axis": {"orient": "top", "title": ["acetyl-CoA carboxylase", "carboxyl transferase subunit alpha", "(EC 6.4.1.2; K01962)"], "labels": false, "ticks": false, "domain": false, "titleFontWeight": "bold", "titleFontSize": 10, "titleLineHeight": 11, "titlePadding": 7, "titleColor": "#111", "titleX": 68}}, "x2": {"field": "to"}, "y": {"field": "y", "type": "quantitative", "axis": null}}},
  {"data": {"name": "sig"}, "transform": [{"filter": "datum.p == 'H'"}], "mark": {"type": "text", "style": "star"}, "encoding": {"x": {"field": "mid", "type": "quantitative", "axis": null}, "y": {"field": "y", "type": "quantitative", "axis": null}, "text": {"field": "label"}}}
 ]}
],
"config": {
 "font": "Liberation Sans",
 "view": {"stroke": "#222", "strokeWidth": 1},
 "style": {
  "whisk": {"strokeDash": [4, 4], "stroke": "#444", "strokeWidth": 1},
  "cap": {"orient": "horizontal", "size": 10.8, "thickness": 1, "color": "#222"},
  "medtick": {"orient": "horizontal", "size": 21.6, "thickness": 3, "color": "#000"},
  "outl": {"shape": "circle", "filled": false, "size": 15, "color": "#444", "strokeWidth": 0.9, "opacity": 1},
  "sigline": {"stroke": "#888", "strokeWidth": 1},
  "star": {"fontSize": 14, "dy": 4, "baseline": "alphabetic", "color": "#111"}
 },
 "axis": {"grid": false, "domain": false, "ticks": true, "tickColor": "#222", "tickSize": 4, "labelColor": "#333", "labelFontSize": 8, "titleFontSize": 9.5, "titleFontWeight": "normal", "titleColor": "#222"},
 "axisY": {"labelAngle": -90, "labelAlign": "center", "labelBaseline": "bottom", "labelPadding": 3, "titlePadding": 3, "format": "~g"},
 "axisX": {"labelAngle": -35, "labelAlign": "right", "labelBaseline": "top", "labelPadding": 1, "labelFontSize": 8, "labelOverlap": false},
 "title": {"fontSize": 10.5, "fontWeight": "bold", "color": "#111", "subtitleFontSize": 10.5, "subtitleColor": "#222", "subtitleLineHeight": 12, "subtitlePadding": 1}
}
}
